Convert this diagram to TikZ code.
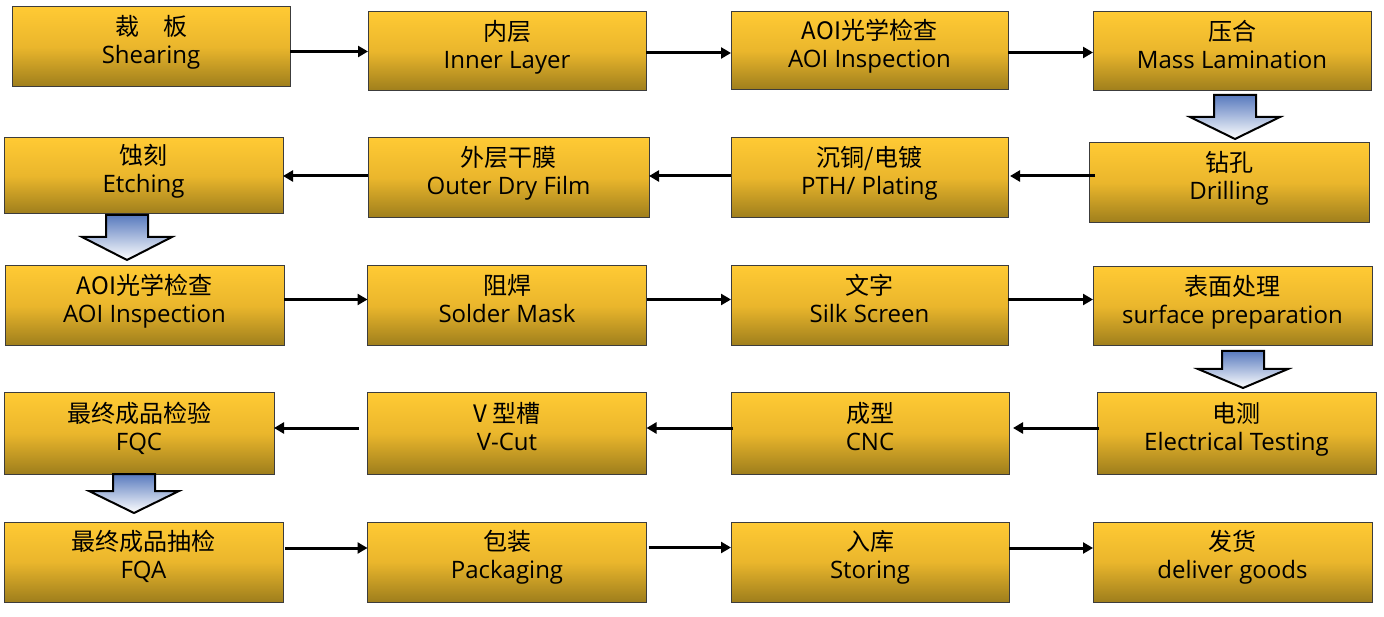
\documentclass[tikz,border=0pt]{standalone}
\usepackage{fontspec}
\newfontfamily\cjk{Noto Sans CJK SC}
\newfontfamily\lat{Open Sans}
\usetikzlibrary{arrows.meta}
\definecolor{gtop}{RGB}{255,202,52}
\definecolor{gmid}{RGB}{234,182,44}
\definecolor{gbot}{RGB}{158,126,28}
\definecolor{btop}{RGB}{88,122,190}
\definecolor{bord}{RGB}{60,60,60}
\tikzset{
  pbox/.style={draw=bord, line width=1pt, top color=gtop, bottom color=gbot, middle color=gmid,
    align=center, inner sep=0pt, outer sep=0pt, text=black, font=\fontsize{24}{28}\selectfont},
  flow/.style={line width=3pt, -{Triangle[length=10pt,width=11pt]}},
  barrow/.style={draw=black, line width=2pt, top color=btop, bottom color=white, line join=miter}
}
\newcommand{\pstep}[7]{% name, cx, cy, w, h, zh, en
  \node[pbox, minimum width=#4pt, minimum height=#5pt] (#1) at (#2,#3)
    {{\cjk #6}\\{\lat #7}\rule[-15pt]{0pt}{1pt}};}
\newcommand{\blockarr}[4]{% cx, top, wing y, tip
  \path[barrow] (#1-21,#2) -- (#1+21,#2) -- (#1+21,#3) -- (#1+45,#3) -- (#1,#4)
    -- (#1-45,#3) -- (#1-21,#3) -- cycle;}
\begin{document}
\begin{tikzpicture}[x=1pt,y=-1pt]
\fill[white] (0,0) rectangle (1384,617);
\useasboundingbox (0,0) rectangle (1384,617);
% row 1
\pstep{shear}{151}{47}{278}{80}{裁　板}{Shearing}
\pstep{inner}{507}{51.5}{278}{79}{内层}{Inner Layer}
\pstep{aoia}{869.5}{51}{277}{78}{AOI光学检查}{AOI Inspection}
\pstep{mass}{1232}{51.5}{278}{79}{压合}{Mass Lamination}
% row 2
\pstep{drill}{1229}{183}{280}{80}{钻孔}{Drilling}
\pstep{pth}{869.5}{178}{277}{80}{沉铜/电镀}{PTH/ Plating}
\pstep{outer}{508.5}{178}{281}{80}{外层干膜}{Outer Dry Film}
\pstep{etch}{143.5}{176}{279}{76}{蚀刻}{Etching}
% row 3
\pstep{aoib}{144.5}{306}{279}{80}{AOI光学检查}{AOI Inspection}
\pstep{solder}{507}{306}{279}{80}{阻焊}{Solder Mask}
\pstep{silk}{869.5}{306}{277}{80}{文字}{Silk Screen}
\pstep{surf}{1232.5}{306.5}{279}{79}{表面处理}{surface preparation}
% row 4
\pstep{elec}{1236.5}{433.5}{279}{81}{电测}{Electrical Testing}
\pstep{cnc}{870}{433.5}{278}{81}{成型}{CNC}
\pstep{vcut}{507}{433.5}{279}{81}{V 型槽}{V-Cut}
\pstep{fqc}{139}{433.5}{270}{81}{最终成品检验}{FQC}
% row 5
\pstep{fqa}{143.5}{562}{279}{80}{最终成品抽检}{FQA}
\pstep{pack}{507}{562}{279}{80}{包装}{Packaging}
\pstep{store}{870}{562}{278}{80}{入库}{Storing}
\pstep{deliv}{1232.5}{562}{279}{80}{发货}{deliver goods}
% connectors row 1
\draw[flow] (shear.east |- inner.west) -- (inner.west);
\draw[flow] ([yshift=-1.5pt]inner.east) -- ([yshift=-1.5pt]inner.east -| aoia.west);
\draw[flow] ([yshift=-1.5pt]aoia.east) -- ([yshift=-1.5pt]aoia.east -| mass.west);
% row 2
\draw[flow] ([xshift=6pt,yshift=2pt]drill.west |- pth.east) -- ([xshift=2pt,yshift=2pt]pth.east);
\draw[flow] ([yshift=2pt]pth.west) -- ([yshift=2pt]outer.east);
\draw[flow] (outer.west |- etch.east) -- (etch.east);
% row 3
\draw[flow] ([yshift=6.5pt]aoib.east) -- ([yshift=6.5pt]solder.west);
\draw[flow] ([yshift=6.5pt]solder.east) -- ([yshift=6.5pt]silk.west);
\draw[flow] ([yshift=6.5pt]silk.east) -- ([yshift=6.5pt]silk.east -| surf.west);
% row 4
\draw[flow] ([xshift=2pt,yshift=5.5pt]elec.west) -- ([xshift=4pt,yshift=5.5pt]cnc.east);
\draw[flow] ([xshift=2pt,yshift=5.5pt]cnc.west) -- ([yshift=5.5pt]vcut.east);
\draw[flow] ([xshift=-9pt,yshift=5.5pt]vcut.west) -- ([yshift=5.5pt]fqc.east);
% row 5
\draw[flow] ([xshift=2pt,yshift=14pt]fqa.east) -- ([yshift=14pt]pack.west);
\draw[flow] ([xshift=2pt,yshift=14.5pt]pack.east) -- ([yshift=14.5pt]store.west);
\draw[flow] ([yshift=14pt]store.east) -- ([yshift=14pt]deliv.west);
% block arrows
\blockarr{1235}{95}{117}{139}
\blockarr{127}{215}{237}{260}
\blockarr{1243}{351}{369}{388}
\blockarr{134}{474}{491}{513}
\end{tikzpicture}
\end{document}
